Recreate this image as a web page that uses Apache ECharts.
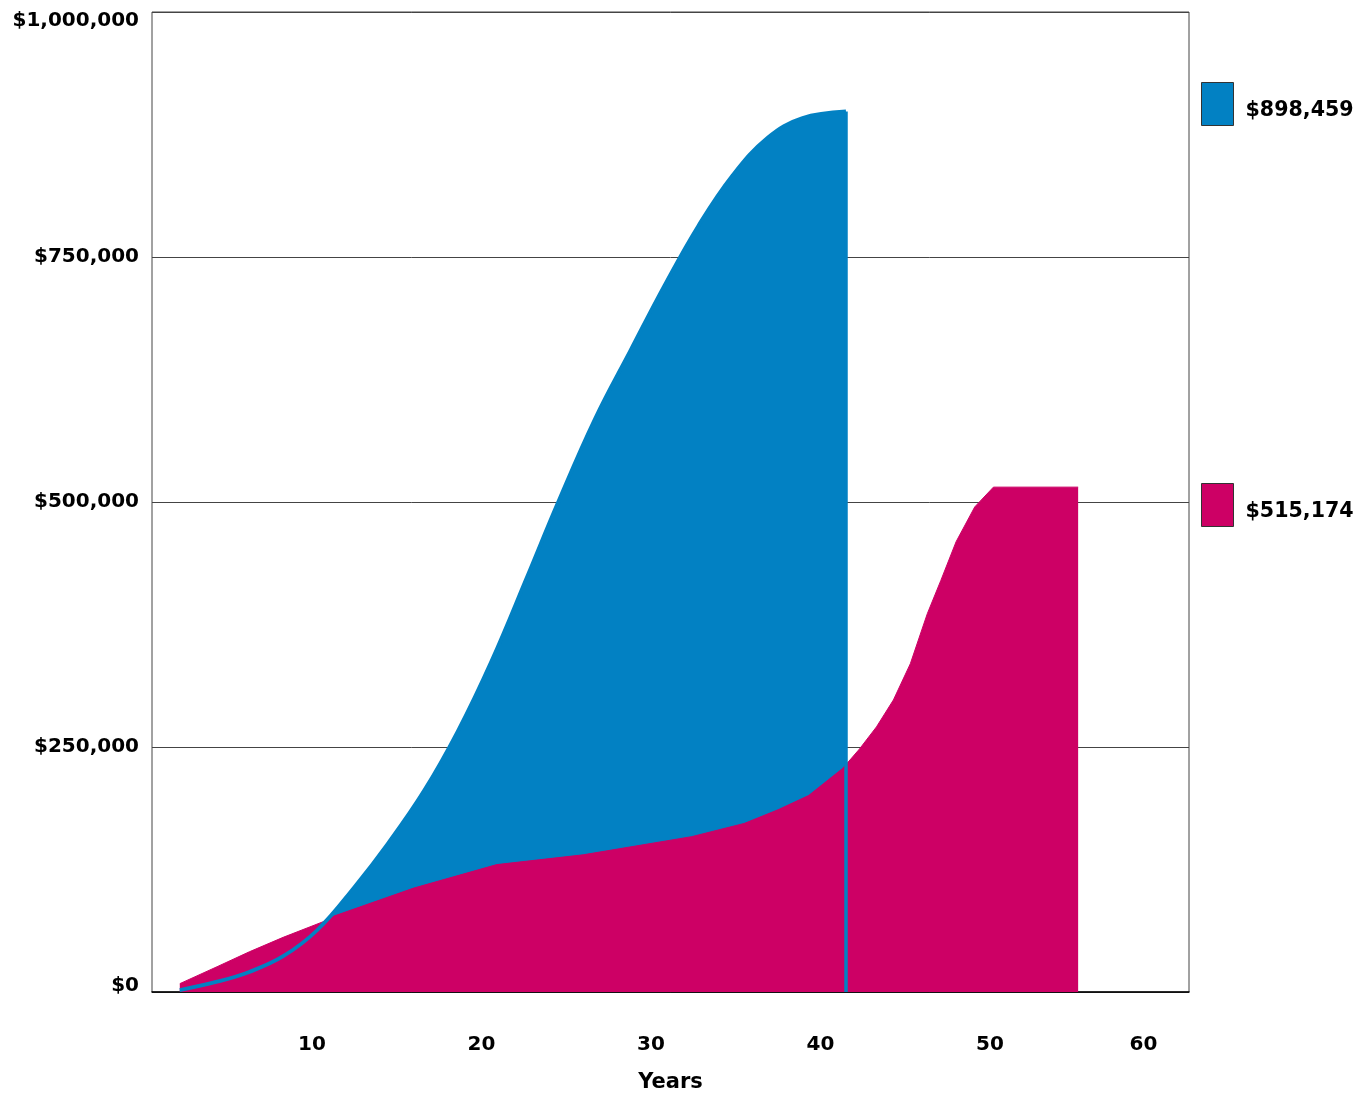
<!DOCTYPE html>
<html>
<head>
<meta charset="utf-8">
<style>
  html, body { margin: 0; padding: 0; background: #ffffff; }
  #chart { width: 1372px; height: 1098px; }
</style>
<script src="https://cdn.jsdelivr.net/npm/echarts@6/dist/echarts.min.js"></script>
</head>
<body>
<div id="chart"></div>
<script>
// ---- data ----
const blueYears  = [2.2, 4.4, 6.3, 8.3, 10.3, 12.5, 14.5, 16.6, 18.6, 20.6, 22.7, 24.5, 26.7, 28.8, 30.8, 32.8, 34.8, 36.9, 38.9, 41.5];
const blueValues = [2000, 10500, 20500, 36500, 63000, 107000, 152000, 205000, 266000, 338000, 424000, 499000, 585000, 655000, 721000, 782000, 833000, 872000, 891500, 898459];

const pinkYears  = [2.2, 4.4, 6.3, 8.3, 10.7, 11.3, 16.0, 20.9, 26.0, 32.4, 35.5, 37.5, 39.3, 41.3, 42.3, 43.3, 44.3, 45.3, 46.3, 47.1, 48.0, 49.1, 50.2, 55.2];
const pinkValues = [8500, 25800, 41000, 55800, 72000, 77500, 106000, 130000, 140000, 158500, 172000, 186000, 200500, 228000, 248000, 270500, 298000, 335000, 386000, 420000, 459500, 495000, 515174, 515174];

const xTickValues = [10, 20, 30, 40, 50, 60];
const yTickValues = [0, 250000, 500000, 750000, 1000000];

// ---- styles ----
const BLUE = '#0281C3';
const PINK = '#CD0065';
const FONT = 'DejaVu Sans';
const money = v => '$' + Math.round(v).toLocaleString('en-US');

const blueData = blueYears.map((x, i) => [x, blueValues[i]]);
const pinkData = pinkYears.map((x, i) => [x, pinkValues[i]]);
const blueLast = blueData[blueData.length - 1];
const pinkLast = pinkData[pinkData.length - 1];
const blueName = money(blueLast[1]);
const pinkName = money(pinkLast[1]);

const labelFont = { fontFamily: FONT, fontWeight: 'bold', fontSize: 20, color: '#000' };
const legendFont = Object.assign({}, labelFont, { fontSize: 20.6 });

function legendFor(name, color, top) {
  return {
    left: 1201, top: top, orient: 'vertical', padding: 0,
    itemWidth: 32, itemHeight: 43, selectedMode: false,
    data: [{ name: name, icon: 'rect', itemStyle: { color: color, borderColor: '#333', borderWidth: 1 } }],
    formatter: n => '{a|' + n + '}',
    textStyle: Object.assign({
      rich: { a: Object.assign({ padding: [14, 0, 0, 7] }, legendFont) }
    }, legendFont)
  };
}

const chart = echarts.init(document.getElementById('chart'), null, { renderer: 'canvas' });

chart.setOption({
  animation: false,
  backgroundColor: '#ffffff',
  grid: {
    left: 152, top: 12, right: 183, bottom: 106,
    show: true, borderColor: '#444', borderWidth: 1, backgroundColor: 'transparent'
  },
  legend: [
    legendFor(blueName, BLUE, 82),
    legendFor(pinkName, PINK, 483)
  ],
  xAxis: {
    type: 'value',
    min: 0.56, max: 61.74,
    axisLine: { show: true, onZero: false, lineStyle: { color: '#000', width: 1.5 } },
    axisTick: { show: false },
    splitLine: { show: false },
    axisLabel: Object.assign({
      customValues: xTickValues,
      margin: 43,
      formatter: v => (v === xTickValues[xTickValues.length - 1] ? '{s|' + v + '}' : String(v)),
      rich: { s: Object.assign({ padding: [0, 32, 0, 0] }, labelFont) }
    }, labelFont),
    name: 'Years',
    nameLocation: 'middle',
    nameGap: 80,
    nameTextStyle: Object.assign({}, labelFont, { fontSize: 21 })
  },
  yAxis: {
    type: 'value',
    min: yTickValues[0], max: yTickValues[yTickValues.length - 1], interval: yTickValues[1] - yTickValues[0],
    axisLine: { show: false },
    axisTick: { show: false },
    splitLine: { show: true, lineStyle: { color: '#444', width: 1 } },
    axisLabel: Object.assign({
      margin: 13,
      formatter: v => {
        if (v === yTickValues[yTickValues.length - 1]) return '{top|' + money(v) + '}';
        if (v === yTickValues[0]) return '{bot|' + money(v) + '}';
        return money(v);
      },
      rich: {
        top: Object.assign({ padding: [18, 0, 0, 0] }, labelFont),
        bot: Object.assign({ padding: [0, 0, 12, 0] }, labelFont)
      }
    }, labelFont)
  },
  series: [
    {
      name: blueName,
      type: 'line',
      z: 2,
      data: blueData,
      smooth: 0.4,
      showSymbol: false,
      silent: true,
      lineStyle: { opacity: 0, width: 0 },
      itemStyle: { color: BLUE },
      areaStyle: { color: BLUE, opacity: 1 }
    },
    {
      name: pinkName,
      type: 'line',
      z: 3,
      data: pinkData,
      smooth: false,
      showSymbol: false,
      silent: true,
      lineStyle: { color: PINK, width: 1 },
      itemStyle: { color: PINK },
      areaStyle: { color: PINK, opacity: 1 }
    },
    {
      name: blueName,
      type: 'line',
      z: 4,
      data: blueData,
      smooth: 0.4,
      showSymbol: false,
      silent: true,
      lineStyle: { color: BLUE, width: 3.8 },
      itemStyle: { color: BLUE },
      markLine: {
        silent: true,
        symbol: ['none', 'none'],
        label: { show: false },
        lineStyle: { color: BLUE, width: 3.5, type: 'solid' },
        data: [[{ coord: [blueLast[0], 0] }, { coord: [blueLast[0], blueLast[1]] }]]
      }
    }
  ]
});
</script>
</body>
</html>
